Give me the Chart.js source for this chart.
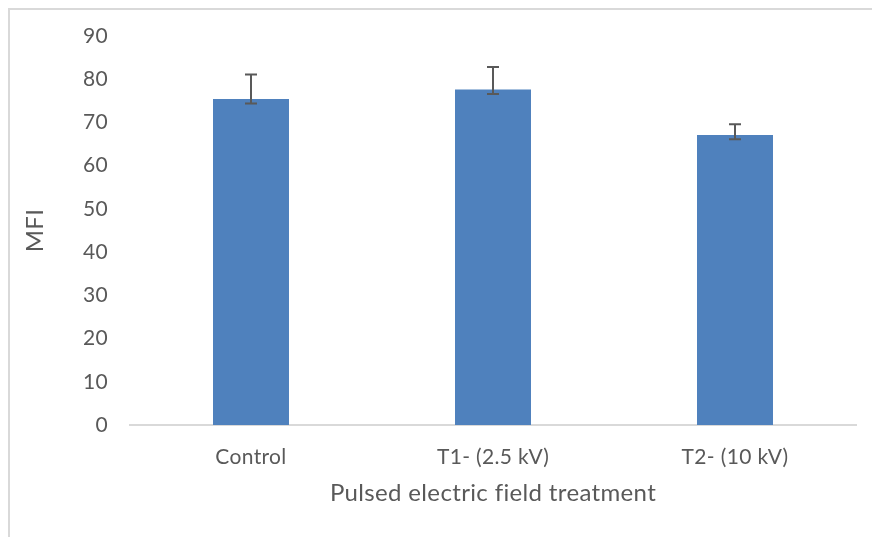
<!DOCTYPE html>
<html>
<head>
<meta charset="utf-8">
<script src="https://cdn.jsdelivr.net/npm/chart.js@4.4.0/dist/chart.umd.min.js"></script>
<style>
  html, body { margin: 0; padding: 0; background: #fff; }
  #wrap { position: relative; width: 872px; height: 537px; overflow: hidden; }
  #frame { position: absolute; left: 8px; top: 8px; width: 900px; height: 600px;
           border-left: 2px solid #d9d9d9; border-top: 2px solid #d9d9d9; box-sizing: border-box; }
  canvas { position: absolute; left: 0; top: 0; }
</style>
</head>
<body>
<div id="wrap">
  <div id="frame"></div>
  <canvas id="c" width="872" height="537"></canvas>
</div>
<script>
const categories = ['Control', 'T1- (2.5 kV)', 'T2- (10 kV)'];
const mfiValues = [75.4, 77.6, 67.1];
const errUpper = [81.1, 82.8, 69.6];
const errLower = [74.4, 76.6, 66.1];
const yTicks = [0, 10, 20, 30, 40, 50, 60, 70, 80, 90];

const textColor = '#595959';
const fontFamily = "Lato, 'Open Sans', 'Liberation Sans', sans-serif";

const textStylePlugin = {
  id: 'textStyle',
  beforeDraw(chart) {
    chart.ctx.letterSpacing = '0.35px';
  }
};

const errorBarPlugin = {
  id: 'errorBars',
  afterDatasetsDraw(chart) {
    const ctx = chart.ctx;
    const meta = chart.getDatasetMeta(0);
    const ys = chart.scales.y;
    ctx.save();
    ctx.strokeStyle = '#595959';
    ctx.lineWidth = 2;
    meta.data.forEach((bar, i) => {
      const x = bar.x;
      const yTop = ys.getPixelForValue(errUpper[i]);
      const yBot = ys.getPixelForValue(errLower[i]);
      const cap = 6;
      ctx.beginPath();
      ctx.moveTo(x, yTop); ctx.lineTo(x, yBot);
      ctx.moveTo(x - cap, yTop); ctx.lineTo(x + cap, yTop);
      ctx.moveTo(x - cap, yBot); ctx.lineTo(x + cap, yBot);
      ctx.stroke();
    });
    ctx.restore();
  }
};

new Chart(document.getElementById('c'), {
  type: 'bar',
  data: {
    labels: categories,
    datasets: [{
      label: 'MFI',
      data: mfiValues,
      backgroundColor: '#4f81bd',
      borderWidth: 0,
      categoryPercentage: 1.0,
      barPercentage: 0.314
    }]
  },
  options: {
    responsive: false,
    animation: false,
    events: [],
    layout: { padding: { left: 0, top: 36, right: 16, bottom: 0 } },
    plugins: { legend: { display: false }, tooltip: { enabled: false } },
    scales: {
      x: {
        grid: { display: false, drawTicks: false },
        border: { display: true, color: '#d9d9d9', width: 2 },
        ticks: { color: textColor, font: { family: fontFamily, size: 21 }, padding: 20 },
        title: { display: true, text: 'Pulsed electric field treatment', color: textColor,
                 font: { family: fontFamily, size: 24 }, padding: { top: 0, bottom: 29 } },
        afterFit(scale) { scale.height = 112; }
      },
      y: {
        min: 0, max: 90,
        afterBuildTicks(scale) { scale.ticks = yTicks.map(v => ({ value: v })); },
        grid: { display: false, drawTicks: false },
        border: { display: false },
        ticks: { color: textColor, font: { family: fontFamily, size: 21 }, padding: 22 },
        title: { display: true, text: 'MFI', color: textColor,
                 font: { family: fontFamily, size: 24 }, padding: { top: 21, bottom: 0 } },
        afterFit(scale) { scale.width = 130; }
      }
    }
  },
  plugins: [textStylePlugin, errorBarPlugin]
});
</script>
</body>
</html>
